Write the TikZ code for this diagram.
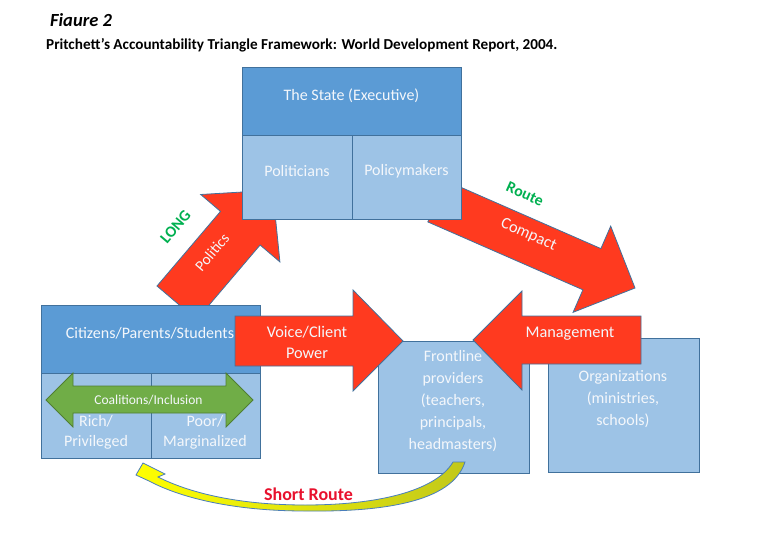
\documentclass[tikz,border=0pt]{standalone}
\usepackage{fontspec}
\setmainfont{Carlito}
\definecolor{hdrblue}{HTML}{5B9BD5}
\definecolor{lightblue}{HTML}{9DC3E6}
\definecolor{edgeblue}{HTML}{41719C}
\definecolor{arrowred}{HTML}{FF3A1F}
\definecolor{grnfill}{HTML}{70AD47}
\definecolor{grnedge}{HTML}{507E32}
\definecolor{longgreen}{HTML}{00B050}
\definecolor{shortred}{HTML}{E8112D}
\definecolor{boxtext}{HTML}{F4F7FB}
\definecolor{olivey}{HTML}{C2C81A}
\definecolor{routeedge}{HTML}{4A7EBB}
\begin{document}
\begin{tikzpicture}[x=1pt,y=-1pt,
  hdrbox/.style={draw=edgeblue, fill=hdrblue, line width=0.8pt, inner sep=0pt, anchor=north west},
  lowbox/.style={draw=edgeblue, fill=lightblue, line width=0.8pt, inner sep=0pt, anchor=north west},
  bigarrow/.style={draw=edgeblue, fill=arrowred, line width=0.8pt, line join=miter},
  grnarrow/.style={draw=grnedge, fill=grnfill, line width=0.8pt, line join=miter},
  boxtxt/.style={text=boxtext, font=\fontsize{16}{21.8}\selectfont, align=center, inner sep=0pt},
  arrtxt/.style={text=boxtext, font=\fontsize{16.3}{21}\selectfont, align=center, inner sep=0pt},
  greenlbl/.style={text=longgreen, font=\bfseries\fontsize{15.8}{18}\selectfont, inner sep=0pt}]
\useasboundingbox (0,0) rectangle (758,535);
\fill[white] (0,0) rectangle (758,535);

% titles
\node[anchor=west, inner sep=0pt, font=\bfseries\itshape\fontsize{18.5}{22}\selectfont] (fig) at (50,20) {Fiaure 2};
\node[anchor=west, inner sep=0pt, font=\bfseries\fontsize{15.2}{18}\selectfont] (sub) at (46,45) {Pritchett’s Accountability Triangle Framework: World Development Report, 2004.};

% arrows behind boxes
\draw[bigarrow] (157,286) -- (220.5,211.4) -- (200.7,194.5) -- (272.7,190.2) -- (279.9,261.9) -- (260.1,245.0) -- (196.6,319.7) -- cycle;
\draw[bigarrow] (445.8,180.7) -- (600.9,248.6) -- (610.7,226.1) -- (635,288) -- (573.1,312.3) -- (582.9,289.8) -- (427.8,221.9) -- cycle;

% State box
\node[hdrbox, minimum width=219pt, minimum height=68pt] (statehdr) at (242,67) {};
\node[lowbox, minimum width=110pt, minimum height=84pt] (pol) at (242,135) {};
\node[lowbox, minimum width=109pt, minimum height=84pt] (polm) at (352,135) {};
\node[boxtxt] (tstate) at (351.5,96) {The State (Executive)};
\node[boxtxt] (tpol) at (297,171) {Politicians};
\node[boxtxt] (tpolm) at (406.5,171) {Policymakers};

% Citizens box
\node[hdrbox, minimum width=219pt, minimum height=68pt] (cithdr) at (41,305) {};
\node[lowbox, minimum width=110pt, minimum height=85pt] (rich) at (41,373) {};
\node[lowbox, minimum width=109pt, minimum height=85pt] (poor) at (151,373) {};
\node[boxtxt] (tcit) at (150,333) {Citizens/Parents/Students};
\node[boxtxt, font=\fontsize{16}{20}\selectfont] (trich) at (96,432) {Rich/\\Privileged};
\node[boxtxt, font=\fontsize{16}{20}\selectfont] (tpoor) at (205,432) {Poor/\\Marginalized};

% Frontline and Organizations
\node[lowbox, minimum width=151pt, minimum height=132pt] (front) at (378,341) {};
\node[lowbox, minimum width=151pt, minimum height=134pt] (org) at (548,338) {};
\node[boxtxt] (tfront) at (453,401) {Frontline\\providers\\(teachers,\\principals,\\headmasters)};
\node[boxtxt] (torg) at (623,399) {Organizations\\(ministries,\\schools)};

% front arrows
\draw[bigarrow] (235,316) -- (353,316) -- (353,290) -- (403,341) -- (353,391) -- (353,366) -- (235,366) -- cycle;
\draw[bigarrow] (641,316) -- (522,316) -- (522,291) -- (473,340) -- (522,390) -- (522,364) -- (641,364) -- cycle;
\draw[grnarrow] (46,400) -- (73,373) -- (73,386) -- (226,386) -- (226,373) -- (253,400) -- (226,427) -- (226,413) -- (73,413) -- (73,427) -- cycle;

% arrow texts
\node[arrtxt] (tvoice) at (307,342.5) {Voice/Client\\Power};
\node[arrtxt] (tman) at (570,334) {Management};
\node[arrtxt, font=\fontsize{13.5}{16}\selectfont] (tcoal) at (148.5,400) {Coalitions/Inclusion};
\node[arrtxt, font=\fontsize{15.3}{18}\selectfont, rotate=49.6] (tpolitics) at (212,252) {Politics};
\node[arrtxt, rotate=-24] (tcompact) at (528.5,235) {Compact};
\node[greenlbl, rotate=49.6] (tlong) at (175.5,227) {LONG};
\node[greenlbl, rotate=-24] (troute) at (525,194) {Route};

% short route curved arrow
\shade[left color=yellow, right color=olivey, draw=routeedge, line width=0.8pt, line join=miter]
  (143,463) -- (165,474) -- (158,477)
  .. controls (200,498) and (255,505) .. (305,505)
  .. controls (375,505) and (435,492) .. (453,462)
  -- (465,462)
  .. controls (452,503) and (380,512) .. (305,511)
  .. controls (240,511) and (185,500) .. (149,481)
  -- (136,475) -- cycle;
\node[inner sep=0pt, text=shortred, font=\bfseries\fontsize{18}{20}\selectfont] (tshort) at (308.5,494) {Short Route};
\end{tikzpicture}
\end{document}
